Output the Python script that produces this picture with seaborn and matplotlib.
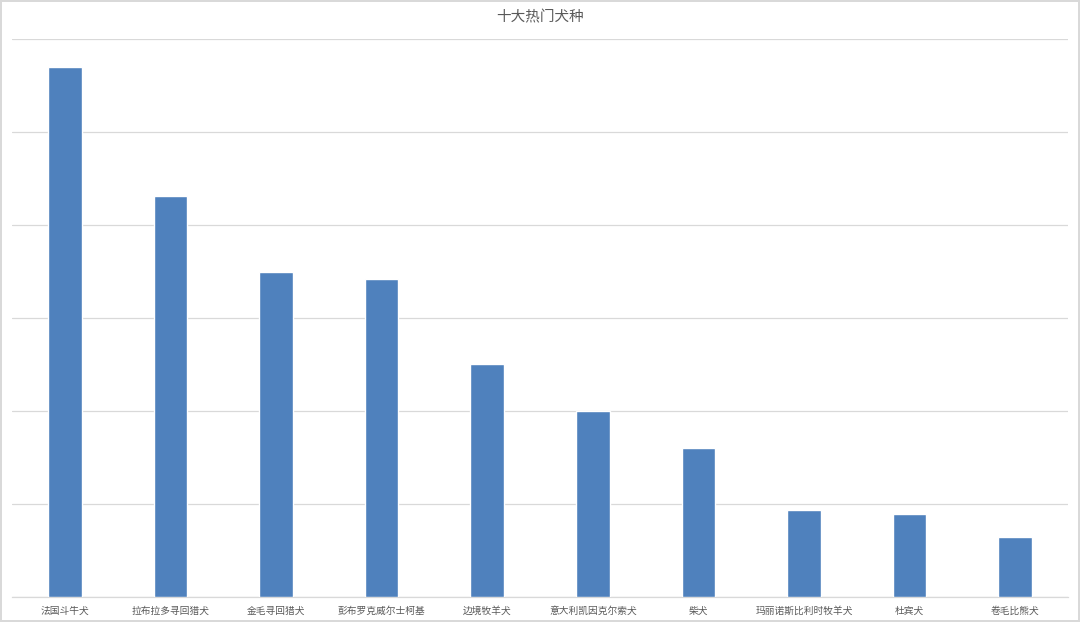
import matplotlib
matplotlib.use("Agg")
import matplotlib.pyplot as plt
import seaborn as sns
import pandas as pd

breeds = ["法国斗牛犬", "拉布拉多寻回猎犬", "金毛寻回猎犬", "彭布罗克威尔士柯基", "边境牧羊犬",
          "意大利凯因克尔索犬", "柴犬", "玛丽诺斯比利时牧羊犬", "杜宾犬", "卷毛比熊犬"]
scores = [57.0, 43.1, 35.0, 34.2, 25.1, 20.0, 16.0, 9.4, 8.9, 6.4]
title = "十大热门犬种"

sns.set_theme(style="white")
plt.rcParams['font.family'] = ['Noto Sans CJK SC', 'DejaVu Sans']

df = pd.DataFrame({"breed": breeds, "score": scores})

fig = plt.figure(figsize=(10.8, 6.22), dpi=100)
fig.patch.set_facecolor("white")
fig.patch.set_edgecolor("#D9D9D9")
fig.patch.set_linewidth(1.5)
ax = fig.add_axes([12/1080, 25/622, 1056/1080, 558/622])

sns.barplot(data=df, x="breed", y="score", color="#4F81BD", saturation=1,
            width=0.32, ax=ax, zorder=3)

ax.set_xlim(-0.5, len(breeds) - 0.5)
ax.set_ylim(0, 60)
ax.set_yticks(range(0, 61, 10))
ax.yaxis.grid(True, color="#D9D9D9", linewidth=0.9, zorder=0)
ax.set_axisbelow(True)
ax.tick_params(axis="y", left=False, labelleft=False)
ax.tick_params(axis="x", bottom=False, labelsize=7, labelcolor="#595959", pad=0.5)
ax.set_xlabel("")
ax.set_ylabel("")
for s in ["top", "right", "left"]:
    ax.spines[s].set_visible(False)
ax.spines["bottom"].set_color("#D9D9D9")
ax.spines["bottom"].set_linewidth(0.9)

fig.text(0.5, 1 - 17/622, title, ha="center", va="center", fontsize=10.5, color="#595959")

fig.savefig("out.png", dpi=100)
